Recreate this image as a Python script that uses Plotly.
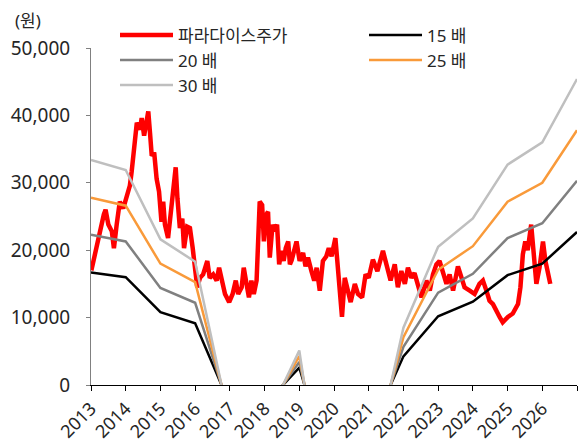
import plotly.graph_objects as go

# ---------------- data ----------------
price_years = [2013.01, 2013.06, 2013.12, 2013.21, 2013.31, 2013.37, 2013.42, 2013.50, 2013.60, 2013.66,
               2013.74, 2013.83, 2013.93, 2014.03, 2014.12, 2014.17, 2014.25, 2014.32, 2014.41, 2014.46,
               2014.53, 2014.60, 2014.65, 2014.70, 2014.75, 2014.82, 2014.89, 2014.96, 2015.03, 2015.08,
               2015.13, 2015.22, 2015.30, 2015.37, 2015.44, 2015.49, 2015.56, 2015.63, 2015.68, 2015.77,
               2015.85, 2015.93, 2015.99, 2016.06, 2016.14, 2016.23, 2016.35, 2016.42, 2016.52, 2016.62,
               2016.69, 2016.76, 2016.86, 2016.98, 2017.08, 2017.17, 2017.24, 2017.34, 2017.40, 2017.48,
               2017.55, 2017.62, 2017.69, 2017.77, 2017.81, 2017.86, 2017.93, 2017.98, 2018.04, 2018.10,
               2018.15, 2018.23, 2018.29, 2018.36, 2018.42, 2018.49, 2018.55, 2018.61, 2018.68, 2018.73,
               2018.78, 2018.92, 2019.01, 2019.11, 2019.18, 2019.25, 2019.35, 2019.43, 2019.50, 2019.59,
               2019.68, 2019.78, 2019.85, 2019.93, 2020.04, 2020.12, 2020.17, 2020.23, 2020.31, 2020.40,
               2020.48, 2020.60, 2020.69, 2020.81, 2020.91, 2021.00, 2021.12, 2021.25, 2021.41, 2021.51,
               2021.63, 2021.75, 2021.84, 2021.94, 2022.04, 2022.13, 2022.23, 2022.32, 2022.42, 2022.52,
               2022.66, 2022.76, 2022.85, 2022.95, 2023.04, 2023.14, 2023.24, 2023.33, 2023.43, 2023.57,
               2023.67, 2023.76, 2023.91, 2024.05, 2024.19, 2024.29, 2024.39, 2024.48, 2024.58, 2024.68,
               2024.77, 2024.86, 2025.01, 2025.15, 2025.30, 2025.37, 2025.44, 2025.51, 2025.58, 2025.68,
               2025.75, 2025.83, 2025.92, 2026.02, 2026.09, 2026.16, 2026.23]
price_values = [17000, 18200, 19400, 21400, 23800, 25300, 26000, 23800, 22800, 20300,
                23800, 27200, 26200, 28200, 29600, 31600, 36500, 38900, 37900, 39600,
                37000, 39200, 40600, 37400, 34000, 34500, 30600, 28700, 24200, 27200,
                23800, 21800, 26200, 30100, 32300, 27700, 23300, 24700, 20300, 23500,
                23300, 20300, 17400, 14500, 15900, 16400, 18400, 15900, 16400, 15500,
                17400, 15900, 13500, 12300, 13500, 15500, 13500, 14500, 17400, 15000,
                13000, 15500, 13500, 15500, 20300, 27200, 26700, 21300, 25200, 25700,
                18900, 23800, 22800, 23800, 17900, 19900, 18400, 20300, 21300, 17900,
                18500, 21300, 18400, 19600, 17600, 18900, 16900, 15500, 17400, 14000,
                18400, 19100, 20300, 19100, 21800, 16900, 14500, 10100, 15900, 14000,
                12300, 15000, 13500, 13000, 16400, 15900, 18600, 16900, 19900, 17900,
                15500, 17900, 14500, 16900, 15000, 17400, 15900, 16600, 15000, 13000,
                15500, 14000, 16400, 17900, 18400, 16900, 15000, 16400, 14000, 17600,
                15900, 14500, 14000, 13500, 15000, 15500, 14000, 12500, 12000, 10800,
                10100, 9300, 10100, 10600, 12000, 14500, 19400, 21300, 20000, 23800,
                18900, 15000, 17400, 21300, 18400, 16400, 15000]

band_years = [2013, 2014, 2015, 2016, 2017, 2018, 2019, 2020, 2021, 2022, 2023, 2024, 2025, 2026, 2027]
per15 = [16700, 16000, 10800, 9150, -2900, -2900, 2570, -14500, -7250, 4250, 10200, 12350, 16300, 18000, 22700]
per20 = [22300, 21300, 14400, 12200, -3860, -3860, 3420, -19400, -9660, 5660, 13700, 16500, 21800, 24000, 30300]
per25 = [27800, 26600, 18000, 15250, -4830, -4830, 4280, -24200, -12100, 7080, 17100, 20600, 27200, 30000, 37800]
per30 = [33400, 31900, 21600, 18300, -5790, -5790, 5130, -29100, -14500, 8500, 20500, 24700, 32700, 36000, 45400]

x_tick_vals = [2013, 2014, 2015, 2016, 2017, 2018, 2019, 2020, 2021, 2022, 2023, 2024, 2025, 2026, 2027]
x_tick_text = ["2013", "2014", "2015", "2016", "2017", "2018", "2019", "2020", "2021", "2022",
               "2023", "2024", "2025", "2026", ""]
y_tick_vals = [0, 10000, 20000, 30000, 40000, 50000]

FONT = "Noto Sans, Noto Sans CJK KR, sans-serif"
TXT = "#262626"

fig = go.Figure()
fig.add_trace(go.Scatter(x=price_years, y=price_values, mode="lines", name="파라다이스주가",
                         line=dict(color="#FF0000", width=4.5), legend="legend"))
fig.add_trace(go.Scatter(x=band_years, y=per15, mode="lines", name="15 배",
                         line=dict(color="#000000", width=2.5), legend="legend2"))
fig.add_trace(go.Scatter(x=band_years, y=per20, mode="lines", name="20 배",
                         line=dict(color="#808080", width=2.5), legend="legend"))
fig.add_trace(go.Scatter(x=band_years, y=per25, mode="lines", name="25 배",
                         line=dict(color="#F99A3A", width=2.5), legend="legend2"))
fig.add_trace(go.Scatter(x=band_years, y=per30, mode="lines", name="30 배",
                         line=dict(color="#BFBFBF", width=2.5), legend="legend"))

L, R, T, B = 91, 2, 48, 56
W, H = 579, 445
pw, ph = W - L - R, H - T - B

def px_x(p):
    return (p - L) / pw

def px_y(p):
    return (H - B - p) / ph

fig.update_layout(
    width=W, height=H,
    margin=dict(l=L, r=R, t=T, b=B, pad=0),
    paper_bgcolor="white", plot_bgcolor="white",
    font=dict(family=FONT, size=17, color=TXT),
    xaxis=dict(range=[2013, 2027], tickvals=x_tick_vals, ticktext=x_tick_text, tickangle=-45,
               showgrid=False, zeroline=False, showline=True, linecolor="#000000", linewidth=1,
               ticks="outside", ticklen=5, tickcolor="#000000", tickfont=dict(size=18, color=TXT)),
    yaxis=dict(range=[0, 50000], tickvals=y_tick_vals, tickformat=",", showgrid=False, zeroline=False,
               showline=True, linecolor="#808080", linewidth=1, ticks="outside", ticklen=4,
               tickcolor="#808080", tickfont=dict(size=19, color=TXT), ticklabelstandoff=12),
    legend=dict(x=px_x(115), y=px_y(17), xanchor="left", yanchor="top", orientation="v",
                bgcolor="rgba(0,0,0,0)", itemwidth=53, font=dict(size=17, color=TXT),
                traceorder="normal"),
    legend2=dict(x=px_x(364), y=px_y(17), xanchor="left", yanchor="top", orientation="v",
                 bgcolor="rgba(0,0,0,0)", itemwidth=53, font=dict(size=17, color=TXT),
                 traceorder="normal"),
    annotations=[dict(text="(원)", xref="paper", yref="paper", x=px_x(28), y=px_y(20),
                      xanchor="center", yanchor="middle", showarrow=False,
                      font=dict(size=17, color=TXT))],
    showlegend=True,
)

fig.write_html("out.html")
